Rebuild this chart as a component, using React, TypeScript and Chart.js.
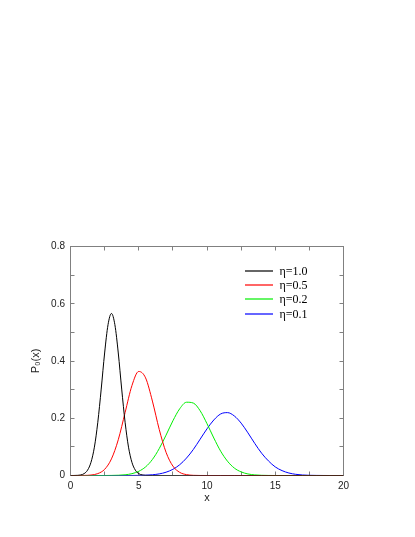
import React, { useEffect, useRef } from "react";
import { Chart, registerables } from "chart.js";

Chart.register(...registerables);

// ---- data ----
const X_GRID = [
  0, 0.5, 1, 1.5, 2, 2.5, 3, 3.5, 4, 4.5, 5, 5.5, 6, 6.5, 7, 7.5, 8, 8.5, 9, 9.5,
  10, 10.5, 11, 11.5, 12, 12.5, 13, 13.5, 14, 14.5, 15, 15.5, 16, 16.5, 17, 17.5,
  18, 18.5, 19, 19.5, 20,
];

const BLACK_X = [
  0, 0.25, 0.5, 0.75, 1, 1.25, 1.5, 1.75, 2, 2.25, 2.5, 2.75, 3, 3.25, 3.5, 3.75,
  4, 4.25, 4.5, 4.75, 5, 5.25, 5.5, 5.75, 6, 7, 8, 9, 10, 11, 12, 13, 14, 15, 16,
  17, 18, 19, 20,
];
const ETA_1_0 = [
  0, 0.0001, 0.0005, 0.002, 0.0066, 0.0187, 0.046, 0.099, 0.186, 0.302, 0.428,
  0.527, 0.566, 0.527, 0.428, 0.302, 0.186, 0.099, 0.046, 0.0187, 0.0066, 0.002,
  0.0005, 0.0001, 0, 0, 0, 0, 0, 0, 0, 0, 0, 0, 0, 0, 0, 0, 0,
];

const ETA_0_5 = [
  0, 0, 0.0003, 0.0016, 0.0066, 0.0215, 0.058, 0.125, 0.22, 0.314, 0.3635, 0.341,
  0.26, 0.161, 0.081, 0.033, 0.011, 0.003, 0.0006, 0.0001, 0, 0, 0, 0, 0, 0, 0,
  0, 0, 0, 0, 0, 0, 0, 0, 0, 0, 0, 0, 0, 0,
];

const ETA_0_2 = [
  0, 0, 0, 0, 0, 0, 0.0003, 0.0009, 0.0025, 0.0064, 0.0147, 0.03, 0.056, 0.094,
  0.141, 0.191, 0.233, 0.256, 0.253, 0.226, 0.181, 0.131, 0.085, 0.05, 0.026,
  0.0126, 0.0054, 0.0021, 0.0007, 0.0002, 0, 0, 0, 0, 0, 0, 0, 0, 0, 0, 0,
];

const ETA_0_1 = [
  0, 0, 0, 0, 0, 0, 0, 0, 0.0001, 0.0002, 0.0004, 0.0011, 0.0026, 0.0056, 0.0115,
  0.0216, 0.0376, 0.061, 0.091, 0.127, 0.163, 0.194, 0.215, 0.2197, 0.208, 0.183,
  0.149, 0.112, 0.078, 0.051, 0.03, 0.017, 0.0087, 0.0041, 0.0018, 0.0007, 0.0003,
  0.0001, 0, 0, 0,
];

const SERIES_LABELS = ["η=1.0", "η=0.5", "η=0.2", "η=0.1"];
const SERIES_COLORS = ["#000000", "#ff0000", "#00ee00", "#0000ff"];

const X_MINOR_TICKS = [0, 2.5, 5, 7.5, 10, 12.5, 15, 17.5, 20];
const Y_MINOR_TICKS = [0, 0.1, 0.2, 0.3, 0.4, 0.5, 0.6, 0.7, 0.8];

const X_TITLE = "x";
const Y_TITLE = "P₀(x)";

function pairs(xs: number[], ys: number[]) {
  return xs.map((x, i) => ({ x, y: ys[i] }));
}

export default function App() {
  const ref = useRef<HTMLCanvasElement>(null);

  useEffect(() => {
    document.body.style.margin = "0";
    const canvas = ref.current;
    if (!canvas) return;

    const framePlugin = {
      id: "frameTicks",
      beforeDatasetsDraw(chart: any) {
        const { ctx, chartArea: a, scales } = chart;
        ctx.save();
        ctx.strokeStyle = "#808080";
        ctx.lineWidth = 1;
        ctx.strokeRect(a.left, a.top, a.right - a.left, a.bottom - a.top);
        ctx.beginPath();
        const tl = 4;
        for (const v of X_MINOR_TICKS) {
          const px = Math.round(scales.x.getPixelForValue(v) - 0.5) + 0.5;
          ctx.moveTo(px, a.bottom);
          ctx.lineTo(px, a.bottom - tl);
          ctx.moveTo(px, a.top);
          ctx.lineTo(px, a.top + tl);
        }
        for (const v of Y_MINOR_TICKS) {
          const py = Math.round(scales.y.getPixelForValue(v) - 0.5) + 0.5;
          ctx.moveTo(a.left, py);
          ctx.lineTo(a.left + tl, py);
          ctx.moveTo(a.right, py);
          ctx.lineTo(a.right - tl, py);
        }
        ctx.stroke();
        ctx.restore();
      },
      afterDatasetsDraw(chart: any) {
        const { ctx, chartArea: a } = chart;
        ctx.save();
        ctx.font = "12px 'Liberation Serif', 'Times New Roman', serif";
        ctx.textBaseline = "middle";
        ctx.textAlign = "left";
        chart.data.datasets.forEach((ds: any, i: number) => {
          const y = Math.round(a.top + 24.5 + i * 14.2);
          ctx.strokeStyle = SERIES_COLORS[i];
          ctx.lineWidth = 1.2;
          ctx.beginPath();
          ctx.moveTo(a.right - 98.5, y);
          ctx.lineTo(a.right - 70.5, y);
          ctx.stroke();
          ctx.fillStyle = "#000";
          ctx.fillText(ds.label, a.right - 64, y + 0.5);
        });
        ctx.restore();
      },
    };

    const seriesX = [BLACK_X, X_GRID, X_GRID, X_GRID];
    const seriesY = [ETA_1_0, ETA_0_5, ETA_0_2, ETA_0_1];

    const tickFont = { family: "'Liberation Sans', Arial, sans-serif", size: 10 };

    const chart = new Chart(canvas, {
      type: "scatter",
      data: {
        datasets: seriesY.map((ys, i) => ({
          label: SERIES_LABELS[i],
          data: pairs(seriesX[i], ys),
          showLine: true,
          borderColor: SERIES_COLORS[i],
          backgroundColor: SERIES_COLORS[i],
          borderWidth: 1,
          pointRadius: 0,
          pointHoverRadius: 0,
          cubicInterpolationMode: "monotone",
          fill: false,
        })),
      },
      plugins: [framePlugin],
      options: {
        responsive: false,
        animation: false,
        events: [],
        layout: { padding: { left: 27, top: 246.5, right: 71.5, bottom: 32 } },
        plugins: {
          legend: { display: false },
          tooltip: { enabled: false },
          title: { display: false },
        },
        scales: {
          x: {
            type: "linear",
            min: 0,
            max: 20,
            grid: { display: false, drawTicks: false, tickLength: 0 },
            border: { display: false },
            ticks: {
              stepSize: 5,
              padding: 4.5,
              color: "#222",
              font: tickFont,
              maxRotation: 0,
            },
            title: {
              display: true,
              text: X_TITLE,
              color: "#222",
              font: { family: "'Liberation Sans', Arial, sans-serif", size: 11 },
              padding: { top: 0, bottom: 0 },
            },
            afterFit(scale: any) {
              scale.height = 29.5;
            },
          },
          y: {
            type: "linear",
            min: 0,
            max: 0.8,
            grid: { display: false, drawTicks: false, tickLength: 0 },
            border: { display: false },
            ticks: {
              stepSize: 0.2,
              padding: 5.5,
              color: "#222",
              font: tickFont,
            },
            title: {
              display: true,
              text: Y_TITLE,
              color: "#222",
              font: { family: "'Liberation Sans', Arial, sans-serif", size: 11 },
              padding: { top: 2, bottom: 0 },
            },
            afterFit(scale: any) {
              scale.width = 43.5;
            },
          },
        },
      },
    } as any);

    return () => chart.destroy();
  }, []);

  return (
    <div style={{ width: 415, height: 537, background: "#fff" }}>
      <canvas ref={ref} width={415} height={537} style={{ display: "block" }} />
    </div>
  );
}
